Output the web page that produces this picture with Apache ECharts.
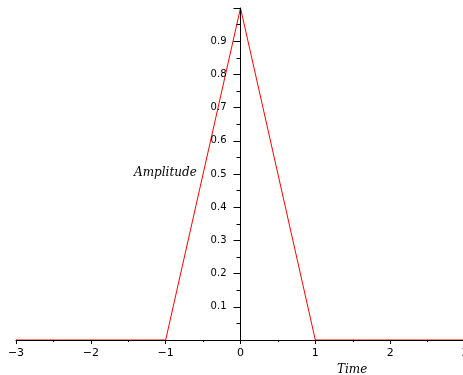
<!DOCTYPE html>
<html><head><meta charset="utf-8">
<script src="https://cdn.jsdelivr.net/npm/echarts@6/dist/echarts.min.js"></script>
<style>html,body{margin:0;padding:0;background:#fff}#c{width:463px;height:375px}</style>
</head><body><div id="c"></div>
<script>
const timeValues = [-3, -1, 0, 1, 3];
const amplitudeValues = [0, 0, 1, 0, 0];
const xTicks = [-3, -2, -1, 0, 1, 2, 3];
const yTicks = [0.1, 0.2, 0.3, 0.4, 0.5, 0.6, 0.7, 0.8, 0.9];
const xTitle = 'Time';
const yTitle = 'Amplitude';

const chart = echarts.init(document.getElementById('c'));
const gridLeft = 16;
chart.setOption({
  animation: false,
  grid: {left: gridLeft, right: -2, top: 8, bottom: 35, containLabel: false, outerBoundsMode: 'none'},
  xAxis: {
    type: 'value', min: -3, max: 3, interval: 1, z: 5,
    axisLine: {onZero: true, lineStyle: {color: '#000', width: 1}},
    axisTick: {show: true, inside: false, length: 4, lineStyle: {color: '#000'}},
    minorTick: {show: true, splitNumber: 2, length: 2, lineStyle: {color: '#000'}},
    splitLine: {show: false},
    axisLabel: {margin: 8, showMinLabel: true, showMaxLabel: true, hideOverlap: false,
      fontFamily: '"DejaVu Sans", sans-serif', fontSize: 11, color: '#000',
      formatter: v => xTicks.includes(v) ? String(v).replace('-', '\u2212') : ''}
  },
  yAxis: {
    type: 'value', min: 0, max: 1, interval: 0.1, z: 5,
    axisLine: {onZero: false, lineStyle: {color: '#000', width: 1}},
    axisTick: {show: true, length: 7, lineStyle: {color: '#000'}},
    minorTick: {show: true, splitNumber: 2, length: 4, lineStyle: {color: '#000'}},
    splitLine: {show: false},
    axisLabel: {margin: 14, fontFamily: '"DejaVu Sans", sans-serif', fontSize: 10, color: '#000',
      formatter: v => {const r = Math.round(v*10)/10; return yTicks.includes(r) ? String(r) : '';}}
  },
  graphic: [
    {type: 'text', left: 134, top: 167, style: {text: yTitle, font: 'italic 12px "DejaVu Serif", serif', fill: '#000'}},
    {type: 'text', left: 337, top: 364, style: {text: xTitle, font: 'italic 12px "DejaVu Serif", serif', fill: '#000'}}
  ],
  series: [{
    type: 'line', z: 2, symbol: 'none',
    lineStyle: {color: '#ff0000', width: 1},
    data: timeValues.map((t, i) => [t, amplitudeValues[i]])
  }]
});
const zeroX = chart.convertToPixel({xAxisIndex: 0}, 0);
chart.setOption({yAxis: {offset: -(zeroX - gridLeft)}});
</script></body></html>
